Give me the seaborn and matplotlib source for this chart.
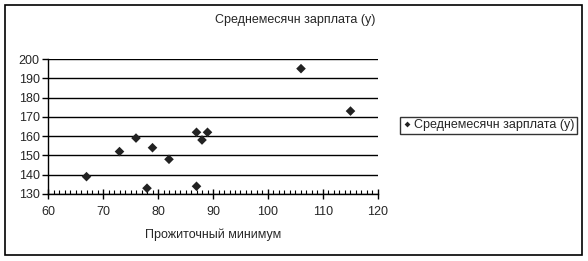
import matplotlib
matplotlib.use("Agg")
import matplotlib.pyplot as plt
import seaborn as sns
import pandas as pd
from matplotlib.patches import Rectangle
from matplotlib.ticker import MultipleLocator

x_vals = [78, 82, 87, 79, 89, 106, 67, 88, 73, 87, 76, 115]
y_vals = [133, 148, 134, 154, 162, 195, 139, 158, 152, 162, 159, 173]
series_name = "Среднемесячн зарплата (у)"
title = "Среднемесячн зарплата (у)"
x_label = "Прожиточный минимум"

sns.set_style("white")
plt.rcParams['font.family'] = ['Liberation Sans', 'DejaVu Sans']

df = pd.DataFrame({"x": x_vals, "y": y_vals, "s": series_name})

fig = plt.figure(figsize=(5.88, 2.61), dpi=100)
ax = fig.add_axes([48/588, 1-194/261, 330/588, 135/261])

sns.scatterplot(data=df, x="x", y="y", hue="s", palette=["#222222"], marker="D",
                s=24, edgecolor="#222222", linewidth=0, ax=ax, legend=True, zorder=3)

ax.set_xlim(60, 120)
ax.set_ylim(130, 200)
ax.xaxis.set_major_locator(MultipleLocator(10))
ax.xaxis.set_minor_locator(MultipleLocator(1))
ax.yaxis.set_major_locator(MultipleLocator(10))
ax.grid(axis="y", color="black", linewidth=1)
ax.grid(axis="x", visible=False)
for s in ["top", "right"]:
    ax.spines[s].set_visible(False)
for s in ["left", "bottom"]:
    ax.spines[s].set_color("black")
    ax.spines[s].set_linewidth(1)
ax.tick_params(axis="y", which="major", direction="out", length=4, width=1, color="black",
               labelsize=9, pad=2, left=True)
ax.tick_params(axis="x", which="major", direction="inout", length=7, width=1, color="black",
               labelsize=9, pad=5, bottom=True)
ax.tick_params(axis="x", which="minor", direction="in", length=3, width=0.8, color="black",
               bottom=True)
ax.set_xlabel(x_label, fontsize=9, labelpad=8)
ax.set_ylabel("")
ax.set_title("")

fig.text(295/588, 1-20/261, title, ha="center", va="center", fontsize=9)

handles, labels = ax.get_legend_handles_labels()
leg = ax.legend(handles, labels, loc="center left", bbox_to_anchor=(400/588, 1-125/261),
                bbox_transform=fig.transFigure, frameon=True, fancybox=False,
                fontsize=9, handletextpad=0.2, borderpad=0.2, handlelength=0.7,
                borderaxespad=0, markerscale=0.6)
leg.get_frame().set_edgecolor("black")
leg.get_frame().set_linewidth(1)

fig.patches.append(Rectangle((5/588, 1-255/261), 577/588, 250/261, transform=fig.transFigure,
                             fill=False, edgecolor="black", linewidth=1.2))

fig.savefig("out.png", dpi=100)
